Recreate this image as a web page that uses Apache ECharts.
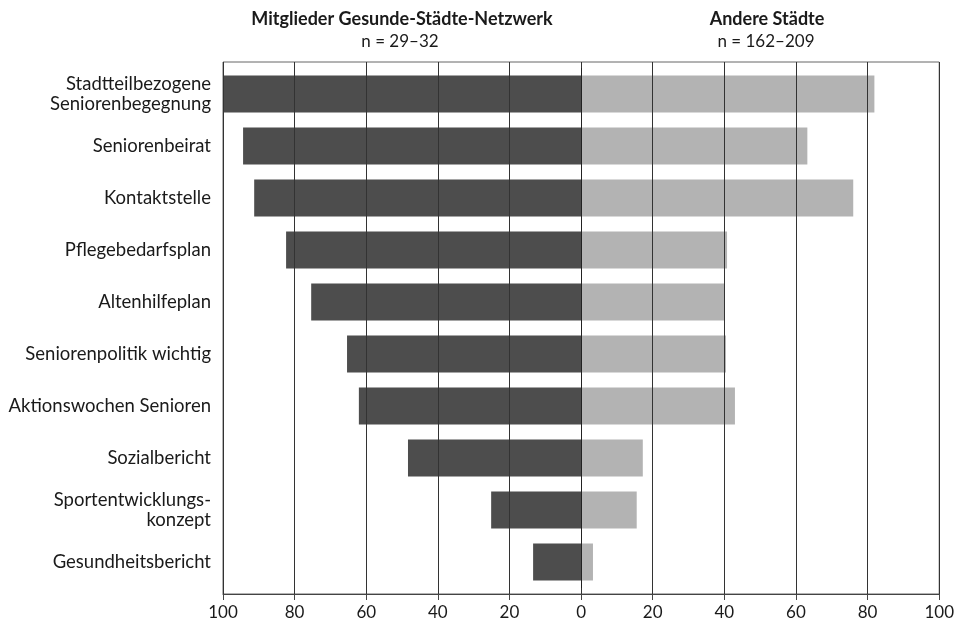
<!DOCTYPE html>
<html>
<head>
<meta charset="utf-8">
<script src="https://cdn.jsdelivr.net/npm/echarts@6/dist/echarts.min.js"></script>
<style>html,body{margin:0;padding:0;background:#fff}#c{width:957px;height:625px}</style>
</head>
<body>
<div id="c"></div>
<script>
const categories = [
  'Stadtteilbezogene\nSeniorenbegegnung',
  'Seniorenbeirat',
  'Kontaktstelle',
  'Pflegebedarfsplan',
  'Altenhilfeplan',
  'Seniorenpolitik wichtig',
  'Aktionswochen Senioren',
  'Sozialbericht',
  'Sportentwicklungs-\nkonzept',
  'Gesundheitsbericht'
];
const gesundeStaedte = [100, 94.4, 91.3, 82.4, 75.4, 65.4, 62.1, 48.4, 25.2, 13.5];
const andereStaedte = [81.7, 63.0, 75.8, 40.6, 39.8, 40.3, 42.8, 17.1, 15.4, 3.2];
const headerLeft = ['Mitglieder Gesunde-Städte-Netzwerk', 'n = 29–32'];
const headerRight = ['Andere Städte', 'n = 162–209'];

const FONT = 'Lato, "Open Sans", sans-serif';
const chart = echarts.init(document.getElementById('c'));
chart.setOption({
  animation: false,
  textStyle: { fontFamily: FONT },
  graphic: [
    { type: 'text', x: 402, y: 19, style: { text: headerLeft[0], font: 'bold 18px ' + FONT, fill: '#1a1a1a', textAlign: 'center', textVerticalAlign: 'middle' } },
    { type: 'text', x: 400, y: 42, style: { text: headerLeft[1], font: '17px ' + FONT, fill: '#1a1a1a', textAlign: 'center', textVerticalAlign: 'middle' } },
    { type: 'text', x: 767, y: 19, style: { text: headerRight[0], font: 'bold 18px ' + FONT, fill: '#1a1a1a', textAlign: 'center', textVerticalAlign: 'middle' } },
    { type: 'text', x: 766, y: 42, style: { text: headerRight[1], font: '17px ' + FONT, fill: '#1a1a1a', textAlign: 'center', textVerticalAlign: 'middle' } }
  ],
  grid: [
    { left: 223, top: 62, width: 717, height: 532, show: true, borderColor: '#666', borderWidth: 1, backgroundColor: 'transparent' },
    { left: 223, top: 68, width: 717, height: 520 }
  ],
  xAxis: [
    {
      gridIndex: 0, type: 'value', min: -100, max: 100, interval: 20,
      axisLine: { show: true, lineStyle: { color: '#444', width: 1 } },
      axisTick: { show: true, length: 6, lineStyle: { color: '#444' } },
      axisLabel: { fontSize: 17, color: '#1a1a1a', margin: 10, formatter: v => String(Math.abs(v)) },
      splitLine: { show: true, lineStyle: { color: '#333', width: 1 } },
      z: 5
    },
    { gridIndex: 1, type: 'value', min: -100, max: 100, show: false }
  ],
  yAxis: [
    { gridIndex: 0, type: 'value', show: false, min: 0, max: 1 },
    {
      gridIndex: 1, type: 'category', data: categories, inverse: true,
      axisLine: { show: false }, axisTick: { show: false },
      axisLabel: { fontSize: 18.5, color: '#1a1a1a', margin: 12, lineHeight: 20 }
    }
  ],
  series: [
    {
      name: 'Mitglieder Gesunde-Städte-Netzwerk', type: 'bar', xAxisIndex: 1, yAxisIndex: 1,
      stack: 'x', barWidth: 37, itemStyle: { color: '#4d4d4d' },
      data: gesundeStaedte.map(v => -v), z: 2
    },
    {
      name: 'Andere Städte', type: 'bar', xAxisIndex: 1, yAxisIndex: 1,
      stack: 'x', barWidth: 37, itemStyle: { color: '#b3b3b3' },
      data: andereStaedte, z: 2,
      markLine: { silent: true, symbol: 'none', label: { show: false },
        lineStyle: { color: '#222', width: 1, type: 'solid' }, data: [{ xAxis: 0 }] }
    }
  ]
});
</script>
</body>
</html>
